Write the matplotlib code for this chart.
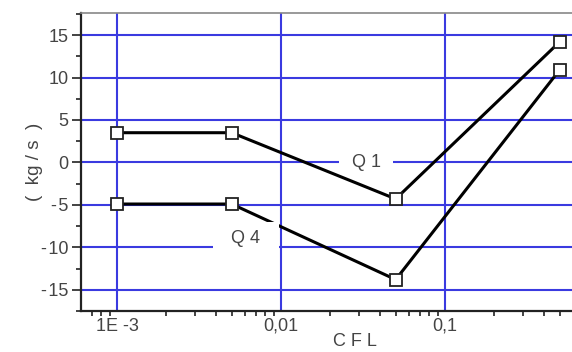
import matplotlib
matplotlib.use("Agg")
import matplotlib.pyplot as plt
from matplotlib.ticker import FixedLocator, FuncFormatter, LogLocator, NullFormatter, MultipleLocator

# data
cfl = [0.001, 0.005, 0.05, 0.5]
q1 = [3.5, 3.5, -4.3, 14.2]
q4 = [-4.9, -4.9, -13.8, 10.9]
xtick_vals = [0.001, 0.01, 0.1]
xtick_text = ["1E -3", "0,01", "0,1"]

plt.rcParams["font.family"] = ["Liberation Sans", "DejaVu Sans"]
plt.rcParams["axes.unicode_minus"] = False

fig = plt.figure(figsize=(5.72, 3.52), dpi=100)
ax = fig.add_axes([81 / 572, 1 - 311 / 352, (580 - 81) / 572, (311 - 13) / 352])

ax.set_xscale("log")
ax.set_xlim(10 ** -3.22, 10 ** -0.177)
ax.set_ylim(-17.5, 17.6)

gridc = "#3a3ae0"
ax.xaxis.set_major_locator(FixedLocator(xtick_vals))
ax.xaxis.set_major_formatter(FuncFormatter(lambda v, p: xtick_text[xtick_vals.index(v)] if v in xtick_vals else ""))
ax.xaxis.set_minor_locator(LogLocator(base=10, subs=range(2, 10)))
ax.xaxis.set_minor_formatter(NullFormatter())
ax.yaxis.set_major_locator(MultipleLocator(5))
ax.yaxis.set_minor_locator(MultipleLocator(2.5))
ax.yaxis.set_major_formatter(FuncFormatter(lambda v, p: ("-\u200a%d" % -v) if v < 0 else "%d" % v))
ax.grid(True, which="major", color=gridc, linewidth=1.5, zorder=1)
ax.set_axisbelow(True)

ax.tick_params(which="both", direction="out", colors="#222222", labelsize=13, labelcolor="#444444")
ax.tick_params(which="major", length=6.5, width=1.2, pad=2.5)
ax.tick_params(which="minor", length=3.5, width=1.2)
ax.tick_params(axis="x", which="major", length=0, pad=5)

for s in ["left", "bottom"]:
    ax.spines[s].set_color("#222222")
    ax.spines[s].set_linewidth(1.6)
ax.spines["top"].set_color("#888888")
ax.spines["top"].set_linewidth(1.2)
ax.spines["right"].set_visible(False)

for ys in [q1, q4]:
    ax.plot(cfl, ys, color="black", linewidth=2.2, marker="s", markersize=8,
            markerfacecolor="white", markeredgecolor="#222222", markeredgewidth=1.3,
            zorder=3, clip_on=False)

ax.text(0.033, 0, "  Q 1  ", fontsize=13, color="#444444", ha="center", va="center",
        bbox=dict(facecolor="white", edgecolor="none", pad=2), zorder=4)
ax.text(0.0061, -9.0, "  Q 4  ", fontsize=13, color="#444444", ha="center", va="center",
        bbox=dict(facecolor="white", edgecolor="none", pad=6), zorder=4)

ax.set_ylabel("(  kg / s  )", fontsize=13.5, color="#444444")
ax.yaxis.set_label_coords(-(81 - 43) / 499, 0.5)
ax.set_xlabel("C F L", fontsize=13, color="#444444")
ax.xaxis.set_label_coords((355 - 81) / 499, -(333 - 311) / 298)

fig.savefig("out.png", dpi=100)
